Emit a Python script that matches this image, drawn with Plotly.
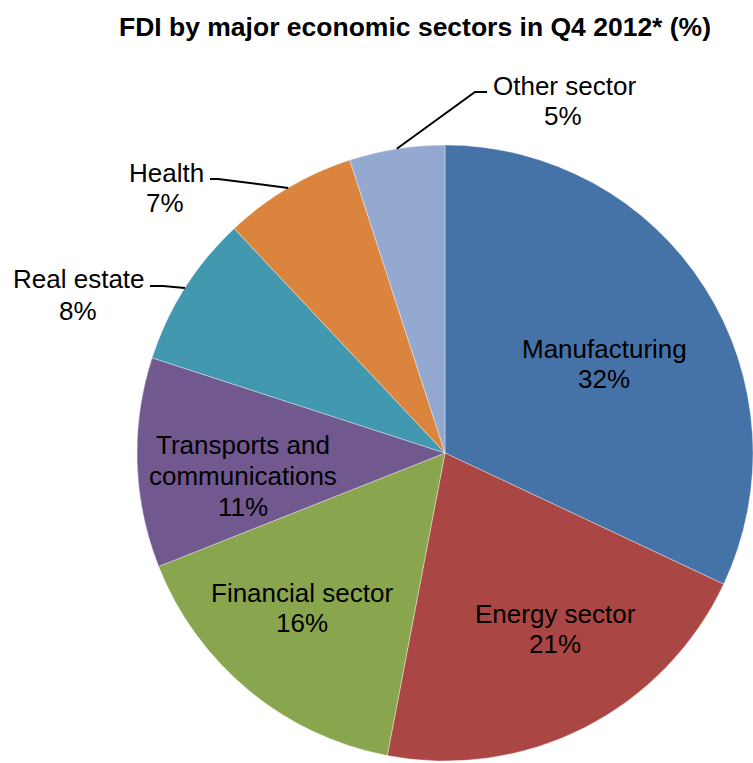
import math
import plotly.graph_objects as go

# Sector shares of FDI, Q4 2012 (%)
sectors = ["Manufacturing", "Energy sector", "Financial sector",
           "Transports and communications", "Real estate", "Health", "Other sector"]
shares = [32, 21, 16, 11, 8, 7, 5]
colors = ["#4572A7", "#AA4643", "#89A54E", "#71588F", "#4198AF", "#DB843D", "#93A9CF"]

W, H = 753, 763
# pie geometry in pixels
CX, CY, R = 445, 453, 308
FONT = "Liberation Sans, Arial, sans-serif"


def px(x):
    return x / W


def py(y):
    return 1 - y / H


fig = go.Figure(go.Pie(
    labels=sectors,
    values=shares,
    sort=False,
    direction="clockwise",
    rotation=0,
    marker=dict(colors=colors, line=dict(color="rgba(255,255,255,0.6)", width=0.6)),
    textinfo="none",
    hoverinfo="label+percent",
    showlegend=False,
    domain=dict(x=[px(CX - R), px(CX + R)], y=[py(CY + R), py(CY - R)]),
))

# label text lines placed at pixel positions (line texts, x, y)
label_lines = {
    "Manufacturing": [("Manufacturing", 604, 349), ("32%", 604, 379)],
    "Energy sector": [("Energy sector", 555, 614), ("21%", 555, 644)],
    "Financial sector": [("Financial sector", 302, 593), ("16%", 302, 623)],
    "Transports and communications": [("Transports and", 243, 445),
                                      ("communications", 243, 476),
                                      ("11%", 243, 507)],
    "Real estate": [("Real estate", 79, 279), ("8%", 78, 311)],
    "Health": [("Health", 166, 173), ("7%", 165, 203)],
    "Other sector": [("Other sector", 564, 86), ("5%", 563, 116)],
}

annotations = []
for name, share in zip(sectors, shares):
    lines = label_lines[name]
    pct = f"{share}%"
    for i, (txt, x, y) in enumerate(lines):
        if i == len(lines) - 1:
            txt = pct
        annotations.append(dict(
            text=txt, x=px(x), y=py(y), xref="paper", yref="paper",
            xanchor="center", yanchor="middle", showarrow=False,
            font=dict(family=FONT, size=26, color="black"),
        ))

# leader lines for the small outer slices: elbow point and end of horizontal run
leaders = {
    "Other sector": ((475, 92), (487, 92)),
    "Health": ((218, 179), (210, 179)),
    "Real estate": ((163, 286), (150, 286)),
}

total = sum(shares)
cum = 0
shapes = []
for name, share in zip(sectors, shares):
    mid = (cum + share / 2) / total * 2 * math.pi
    cum += share
    if name in leaders:
        ex = CX + R * math.sin(mid)
        ey = CY - R * math.cos(mid)
        (bx, by), (tx, ty) = leaders[name]
        path = (f"M {px(ex)} {py(ey)} L {px(bx)} {py(by)} L {px(tx)} {py(ty)}")
        shapes.append(dict(type="path", path=path, xref="paper", yref="paper",
                           line=dict(color="black", width=2)))

fig.update_layout(
    width=W, height=H,
    margin=dict(l=0, r=0, t=0, b=0),
    paper_bgcolor="white",
    title=dict(text="FDI by major economic sectors in Q4 2012* (%)",
               x=px(415), xanchor="center", y=py(27), yanchor="middle",
               font=dict(family=FONT, size=26.5, color="black", weight="bold")),
    annotations=annotations,
    shapes=shapes,
)

fig.write_html("out.html")
